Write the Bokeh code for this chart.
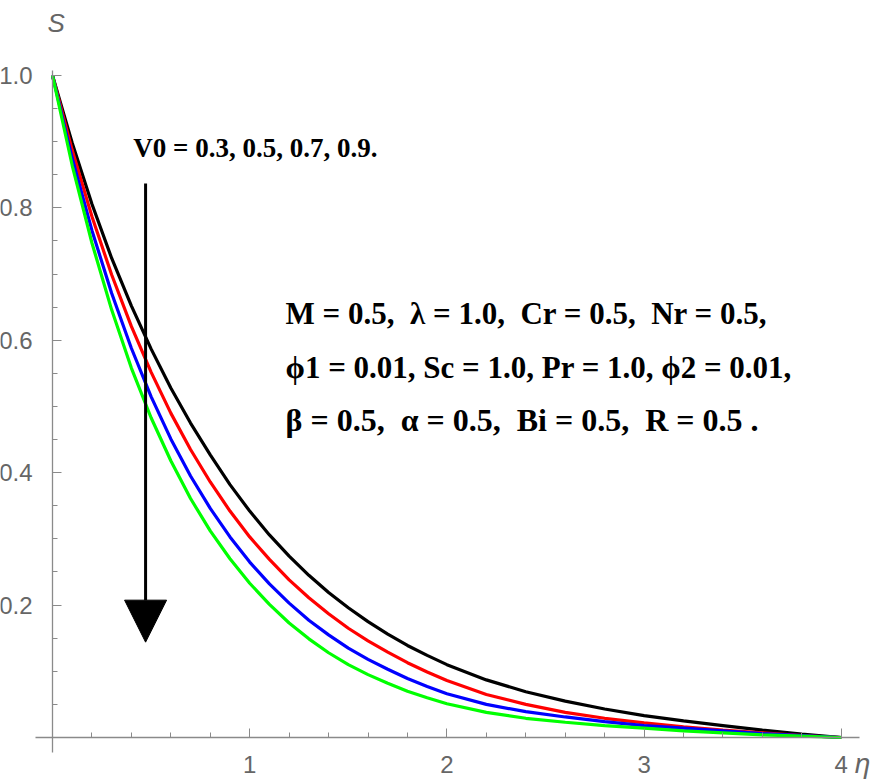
from bokeh.plotting import figure
from bokeh.models import Range1d, FixedTicker, NumeralTickFormatter, Label, Arrow, NormalHead
from bokeh.embed import file_html
from bokeh.resources import INLINE

# ---------------- data ----------------
eta = [0.0, 0.1, 0.2, 0.3, 0.4, 0.5, 0.6, 0.7, 0.8, 0.9, 1.0,
       1.1, 1.2, 1.3, 1.4, 1.5, 1.6, 1.7, 1.8, 1.9, 2.0,
       2.2, 2.4, 2.6, 2.8, 3.0, 3.2, 3.4, 3.6, 3.8, 4.0]
s_v03 = [1.000, 0.898, 0.806, 0.724, 0.652, 0.587, 0.528, 0.475, 0.427, 0.382, 0.342,
         0.306, 0.274, 0.245, 0.219, 0.196, 0.175, 0.156, 0.139, 0.124, 0.110,
         0.087, 0.069, 0.055, 0.043, 0.033, 0.025, 0.018, 0.011, 0.005, 0.000]
s_v05 = [1.000, 0.887, 0.787, 0.699, 0.621, 0.552, 0.490, 0.435, 0.386, 0.342, 0.303,
         0.269, 0.238, 0.211, 0.187, 0.165, 0.146, 0.129, 0.113, 0.099, 0.086,
         0.065, 0.050, 0.038, 0.029, 0.022, 0.016, 0.011, 0.007, 0.003, 0.000]
s_v07 = [1.000, 0.875, 0.766, 0.671, 0.588, 0.515, 0.451, 0.395, 0.346, 0.303, 0.265,
         0.232, 0.203, 0.177, 0.155, 0.135, 0.118, 0.103, 0.089, 0.077, 0.066,
         0.050, 0.039, 0.031, 0.024, 0.018, 0.014, 0.010, 0.006, 0.003, 0.000]
s_v09 = [1.000, 0.864, 0.747, 0.646, 0.558, 0.483, 0.418, 0.361, 0.312, 0.270, 0.233,
         0.201, 0.173, 0.149, 0.128, 0.110, 0.095, 0.082, 0.070, 0.060, 0.051,
         0.038, 0.029, 0.023, 0.018, 0.014, 0.010, 0.007, 0.004, 0.002, 0.000]
series_colors = ["black", "#ff0000", "#0000ff", "#00ff00"]

x_major = [1, 2, 3, 4]
x_minor = [0.2, 0.4, 0.6, 0.8, 1.2, 1.4, 1.6, 1.8, 2.2, 2.4, 2.6, 2.8,
           3.2, 3.4, 3.6, 3.8]
y_major = [0.2, 0.4, 0.6, 0.8, 1.0]
y_minor = [0.05, 0.1, 0.15, 0.25, 0.3, 0.35, 0.45, 0.5, 0.55, 0.65, 0.7, 0.75,
           0.85, 0.9, 0.95]

NB = "\u00a0"
v0_text = "V0 = 0.3, 0.5, 0.7, 0.9."
param_lines = [f"M = 0.5, {NB}\u03bb = 1.0, {NB}Cr = 0.5, {NB}Nr = 0.5,",
               "\u03d51 = 0.01, Sc = 1.0, Pr = 1.0, \u03d52 = 0.01,",
               f"\u03b2 = 0.5, {NB}\u03b1 = 0.5, {NB}Bi = 0.5, {NB}R = 0.5 ."]
param_sizes = ["31px", "31px", "32px"]

# ---------------- figure ----------------
p = figure(width=891, height=782, output_backend="svg", toolbar_location=None,
           x_range=Range1d(-0.2637, 4.2546), y_range=Range1d(-0.068, 1.1133),
           min_border_left=0, min_border_right=0, min_border_top=0,
           min_border_bottom=0, outline_line_color=None,
           x_axis_location="below", y_axis_location="left")
p.background_fill_color = "white"
p.border_fill_color = "white"
p.grid.visible = False

for ax in (p.xaxis[0], p.yaxis[0]):
    ax.fixed_location = 0
    ax.axis_line_color = "#8a8a8a"
    ax.axis_line_width = 1.3
    ax.major_tick_line_color = "#8a8a8a"
    ax.minor_tick_line_color = "#8a8a8a"
    ax.major_tick_in = 9
    ax.major_tick_out = 0
    ax.minor_tick_in = 5
    ax.minor_tick_out = 0
    ax.major_label_text_font = "Liberation Sans"
    ax.major_label_text_font_size = "24px"
    ax.major_label_text_color = "#666666"

p.xaxis[0].bounds = (-0.0862, 4.092)
p.yaxis[0].bounds = (-0.0227, 1.0076)
p.xaxis[0].ticker = FixedTicker(ticks=x_major, minor_ticks=x_minor)
p.yaxis[0].ticker = FixedTicker(ticks=y_major, minor_ticks=y_minor)
p.yaxis[0].formatter = NumeralTickFormatter(format="0.0")
p.xaxis[0].major_label_standoff = 19
p.yaxis[0].major_label_standoff = 20

for ys, c in zip([s_v03, s_v05, s_v07, s_v09], series_colors):
    p.line(eta, ys, line_color=c, line_width=3.2)

# arrow
p.add_layout(Arrow(end=NormalHead(size=42, fill_color="black", line_color="black"),
                   x_start=0.472, y_start=0.837, x_end=0.472, y_end=0.144,
                   line_width=3, line_color="black"))

# texts
p.add_layout(Label(x=0.41, y=0.890, text=v0_text, text_font="Liberation Serif",
                   text_font_style="bold", text_font_size="27px",
                   text_align="left", text_baseline="middle", text_color="black"))
for txt, yy, fs in zip(param_lines, [0.6405, 0.559, 0.479], param_sizes):
    p.add_layout(Label(x=1.182, y=yy, text=txt, text_font="Liberation Serif",
                       text_font_style="bold", text_font_size=fs,
                       text_align="left", text_baseline="middle", text_color="black"))

p.add_layout(Label(x=0.018, y=1.080, text="S", text_font="Liberation Sans",
                   text_font_style="italic", text_font_size="26px",
                   text_align="center", text_baseline="middle", text_color="#666666"))
p.add_layout(Label(x=4.108, y=-0.039, text="\u03b7", text_font="Liberation Sans",
                   text_font_style="italic", text_font_size="28px",
                   text_align="center", text_baseline="middle", text_color="#666666"))

open("out.html", "w").write(file_html(p, INLINE))
